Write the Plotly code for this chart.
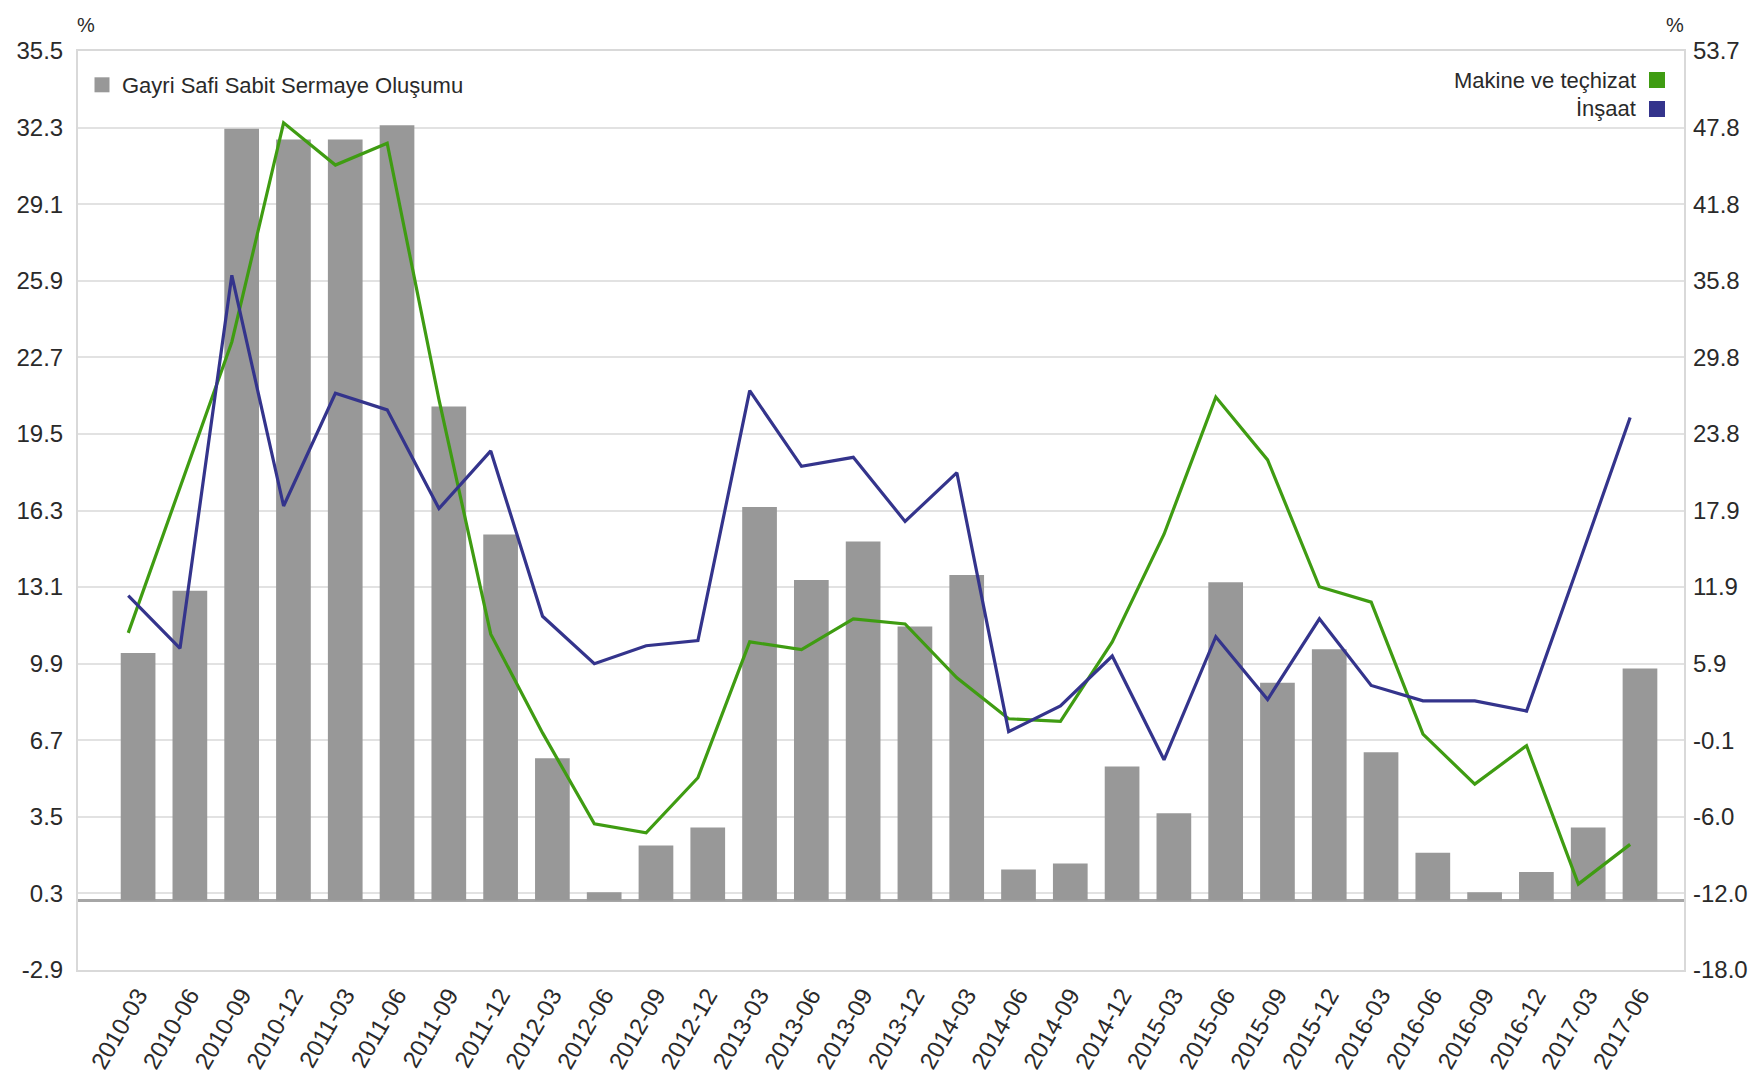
import plotly.graph_objects as go

categories = ["2010-03", "2010-06", "2010-09", "2010-12", "2011-03", "2011-06", "2011-09", "2011-12",
              "2012-03", "2012-06", "2012-09", "2012-12", "2013-03", "2013-06", "2013-09", "2013-12",
              "2014-03", "2014-06", "2014-09", "2014-12", "2015-03", "2015-06", "2015-09", "2015-12",
              "2016-03", "2016-06", "2016-09", "2016-12", "2017-03", "2017-06"]

gfcf = [10.35, 12.95, 32.25, 31.8, 31.8, 32.4, 20.65, 15.3, 5.95, 0.35, 2.3, 3.05, 16.45, 13.4, 15.0,
        11.45, 13.6, 1.3, 1.55, 5.6, 3.65, 13.3, 9.1, 10.5, 6.2, 2.0, 0.35, 1.2, 3.05, 9.7]

machinery = [8.3, 19.6, 31.0, 48.1, 44.8, 46.5, 26.5, 8.2, 0.5, -6.6, -7.3, -3.0, 7.6, 7.0, 9.4,
             9.0, 4.8, 1.6, 1.4, 7.6, 16.0, 26.7, 21.8, 11.9, 10.7, 0.4, -3.5, -0.5, -11.3, -8.2]

construction = [11.2, 7.1, 36.2, 18.2, 27.0, 25.7, 18.0, 22.5, 9.6, 5.9, 7.3, 7.7, 27.2, 21.3, 22.0,
                17.0, 20.8, 0.6, 2.6, 6.5, -1.6, 8.0, 3.1, 9.4, 4.2, 3.0, 3.0, 2.2, 13.6, 25.1]

left_ticks = [-2.9, 0.3, 3.5, 6.7, 9.9, 13.1, 16.3, 19.5, 22.7, 25.9, 29.1, 32.3, 35.5]
right_ticks = [-18.0, -12.0, -6.0, -0.1, 5.9, 11.9, 17.9, 23.8, 29.8, 35.8, 41.8, 47.8, 53.7]

names = ["Gayri Safi Sabit Sermaye Oluşumu", "Makine ve teçhizat", "İnşaat"]

BAR = "#989898"
GREEN = "#3f9c12"
BLUE = "#34348c"
FONT = "Liberation Sans, Arial, sans-serif"
TXT = "#2a2a2a"

idx = list(range(len(categories)))
line_shift = 0.19
idx_line = [i - line_shift for i in idx]

r_lo, r_hi = -18.0, 53.7
r_step = (r_hi - r_lo) / (len(right_ticks) - 1)
right_vals = [r_lo + k * r_step for k in range(len(right_ticks))]

fig = go.Figure()
fig.add_trace(go.Bar(x=idx, y=gfcf, name=names[0], marker=dict(color=BAR, line=dict(width=0)),
                     width=0.67, yaxis="y", showlegend=False, legendgroup="g"))
# legend entry with a larger square swatch for the bar series
fig.add_trace(go.Scatter(x=[None], y=[None], name=names[0], mode="markers", legendgroup="g",
                         marker=dict(symbol="square", size=15, color=BAR), yaxis="y"))
fig.add_trace(go.Scatter(x=idx_line, y=machinery, name=names[1], mode="lines",
                         line=dict(color=GREEN, width=3.2), yaxis="y2", showlegend=False))
fig.add_trace(go.Scatter(x=idx_line, y=construction, name=names[2], mode="lines",
                         line=dict(color=BLUE, width=3.2), yaxis="y2", showlegend=False))

W, H = 1758, 1072
ml, mr, mt, mb = 70, 82, 43, 110
pw, ph = W - ml - mr, H - mt - mb


def px_x(px):
    return (px - ml) / pw


def px_y(py):
    return 1 - (py - mt) / ph


annotations = [
    dict(text="%", x=px_x(78), y=px_y(17), xref="paper", yref="paper", showarrow=False,
         font=dict(size=20, color=TXT, family=FONT), xanchor="center", yanchor="middle"),
    dict(text="%", x=px_x(1667), y=px_y(17), xref="paper", yref="paper", showarrow=False,
         font=dict(size=20, color=TXT, family=FONT), xanchor="center", yanchor="middle"),
    dict(text=names[1], x=px_x(1630), y=px_y(72), xref="paper", yref="paper", showarrow=False,
         font=dict(size=22, color=TXT, family=FONT), xanchor="right", yanchor="middle"),
    dict(text=names[2], x=px_x(1630), y=px_y(101), xref="paper", yref="paper", showarrow=False,
         font=dict(size=22, color=TXT, family=FONT), xanchor="right", yanchor="middle"),
]
shapes = [
    dict(type="rect", xref="paper", yref="paper", x0=px_x(1641), x1=px_x(1657), y0=px_y(80), y1=px_y(64),
         fillcolor=GREEN, line=dict(width=0)),
    dict(type="rect", xref="paper", yref="paper", x0=px_x(1641), x1=px_x(1657), y0=px_y(109), y1=px_y(93),
         fillcolor=BLUE, line=dict(width=0)),
]

fig.update_layout(
    width=W, height=H,
    margin=dict(l=ml, r=mr, t=mt, b=mb, autoexpand=False),
    paper_bgcolor="white", plot_bgcolor="white",
    barmode="overlay",
    font=dict(family=FONT, size=22, color=TXT),
    showlegend=True,
    legend=dict(x=px_x(74), y=px_y(56), xanchor="left", yanchor="top", bgcolor="rgba(0,0,0,0)",
                font=dict(size=22, family=FONT, color=TXT), borderwidth=0, itemsizing="trace"),
    xaxis=dict(range=[-1.16, 29.85], tickvals=idx, ticktext=categories, tickangle=-60,
               showgrid=False, zeroline=False, showline=True, mirror=True, linecolor="#d9d9d9",
               linewidth=2, ticks="", automargin=False, tickfont=dict(size=24, family=FONT, color=TXT)),
    yaxis=dict(range=[left_ticks[0], left_ticks[-1]], tickvals=left_ticks,
               ticktext=[f"{v:.1f}" for v in left_ticks], showgrid=True, gridcolor="#e2e2e2",
               gridwidth=2, zeroline=True, zerolinecolor="#a6a6a6", zerolinewidth=3,
               showline=True, mirror=True, linecolor="#d9d9d9", linewidth=2, ticks="",
               automargin=False, ticklabelstandoff=8, tickfont=dict(size=24, family=FONT, color=TXT)),
    yaxis2=dict(range=[r_lo, r_hi], overlaying="y", side="right", tickvals=right_vals,
                ticktext=[f"{v:.1f}" for v in right_ticks], showgrid=False, zeroline=False,
                showline=False, ticks="", ticklabelstandoff=8, automargin=False,
                tickfont=dict(size=24, family=FONT, color=TXT)),
    annotations=annotations,
    shapes=shapes,
)

fig.write_html("out.html")
